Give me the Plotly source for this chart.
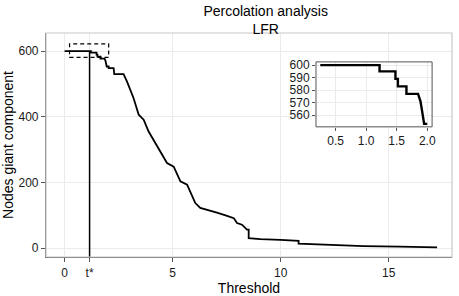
import plotly.graph_objects as go

# Main percolation curve (threshold vs nodes in giant component)
threshold = [0.0, 0.25, 1.22, 1.22, 1.48, 1.48, 1.52, 1.52, 1.66, 1.66, 1.85, 1.89, 1.93, 1.95, 2.0,
             2.04, 2.04, 2.27, 2.30, 2.73, 2.89, 3.05, 3.19, 3.43, 3.66, 3.89, 4.2, 4.35, 4.51,
             4.74, 5.05, 5.2, 5.36, 5.67, 5.9, 6.05, 6.28, 6.59, 7.05, 7.52, 7.83, 7.98, 8.21,
             8.44, 8.52, 8.52, 9.06, 9.99, 10.83, 10.83, 12.0, 13.84, 15.5, 17.24]
nodes = [600, 600, 600, 595, 595, 589, 589, 583, 583, 577, 577, 571, 559, 553, 553,
         553, 548, 548, 530, 530, 507, 480, 457, 406, 391, 355, 320, 305, 289,
         259, 248, 225, 203, 193, 162, 137, 122, 117, 108, 98, 91, 76, 71,
         56, 56, 30, 27, 25, 22, 13, 10, 6, 4, 2]

t_star = 1.157
x_ticks = [0, t_star, 5, 10, 15]
x_tick_labels = ["0", "t*", "5", "10", "15"]
y_ticks = [0, 200, 400, 600]

# Inset (zoom on the start of the curve)
inset_threshold = [x for x in threshold if 0.25 <= x <= 2.0]
inset_nodes = [n for x, n in zip(threshold, nodes) if 0.25 <= x <= 2.0]
inset_x_ticks = [0.5, 1.0, 1.5, 2.0]
inset_y_ticks = [560, 570, 580, 590, 600]

# Dashed zoom box on the main panel
box_x = [0.23, 2.04]
box_y = [581, 622]

FONT = "Liberation Sans, Arial, Helvetica, sans-serif"

fig = go.Figure()
fig.add_trace(go.Scatter(x=threshold, y=nodes, mode="lines",
                         line=dict(color="black", width=1.8), showlegend=False,
                         hoverinfo="skip"))
fig.add_trace(go.Scatter(x=[t_star, t_star], y=[-27.4, 600], mode="lines",
                         line=dict(color="black", width=1.5), showlegend=False,
                         hoverinfo="skip"))
fig.add_trace(go.Scatter(x=inset_threshold, y=inset_nodes, mode="lines",
                         line=dict(color="black", width=2.4), showlegend=False,
                         xaxis="x2", yaxis="y2", hoverinfo="skip"))

fig.add_shape(type="rect", x0=box_x[0], x1=box_x[1], y0=box_y[0], y1=box_y[1],
              xref="x", yref="y", line=dict(color="black", width=1.2, dash="4px,3px"))
# light panel border
fig.add_shape(type="rect", x0=0, x1=1, y0=0, y1=1, xref="x domain", yref="y domain",
              line=dict(color="#c8c8c8", width=1.2), layer="above")
# inset border
fig.add_shape(type="rect", x0=0, x1=1, y0=0, y1=1, xref="x2 domain", yref="y2 domain",
              line=dict(color="#555555", width=1), layer="above")

fig.update_layout(
    width=459, height=296,
    margin=dict(l=45.7, r=7.3, t=33, b=38.7, autoexpand=False),
    paper_bgcolor="white", plot_bgcolor="white",
    font=dict(family=FONT, color="black", size=12),
    title=dict(text="Percolation analysis<br>LFR", x=0.541, xanchor="center",
               xref="paper", y=0.945, yref="container", yanchor="top",
               automargin=False, font=dict(size=14, family=FONT)),
    xaxis=dict(range=[-0.86, 17.93], tickvals=x_ticks, ticktext=x_tick_labels,
               automargin=False,
               showgrid=True, gridcolor="#ebebeb", gridwidth=1, zeroline=False,
               showline=True, linecolor="#555555", linewidth=1.2,
               ticks="outside", ticklen=4, tickcolor="#555555",
               tickfont=dict(size=12, color="#1a1a1a"),
               title=dict(text="Threshold", font=dict(size=14), standoff=4)),
    yaxis=dict(range=[-27.4, 655], tickvals=y_ticks, automargin=False,
               showgrid=True, gridcolor="#ebebeb", gridwidth=1, zeroline=False,
               showline=True, linecolor="#555555", linewidth=1.2,
               ticks="outside", ticklen=4, tickcolor="#555555",
               tickfont=dict(size=12, color="#1a1a1a"),
               title=dict(text="Nodes giant component", font=dict(size=14), standoff=3)),
    xaxis2=dict(domain=[0.665, 0.951], anchor="y2", range=[0.18, 2.08], automargin=False,
                tickvals=inset_x_ticks, ticktext=["0.5", "1.0", "1.5", "2.0"],
                showgrid=True, gridcolor="#ebebeb", zeroline=False,
                showline=False, ticks="outside", ticklen=3, tickcolor="#555555",
                tickfont=dict(size=12, color="#1a1a1a")),
    yaxis2=dict(domain=[0.581, 0.871], anchor="x2", range=[550.6, 602.6], automargin=False,
                tickvals=inset_y_ticks,
                showgrid=True, gridcolor="#ebebeb", zeroline=False,
                showline=False, ticks="outside", ticklen=3, tickcolor="#555555",
                tickfont=dict(size=12, color="#1a1a1a")),
)

fig.write_html("out.html", config={"displayModeBar": False},
               post_script="document.body.style.margin='0';document.body.style.overflow='hidden';")
